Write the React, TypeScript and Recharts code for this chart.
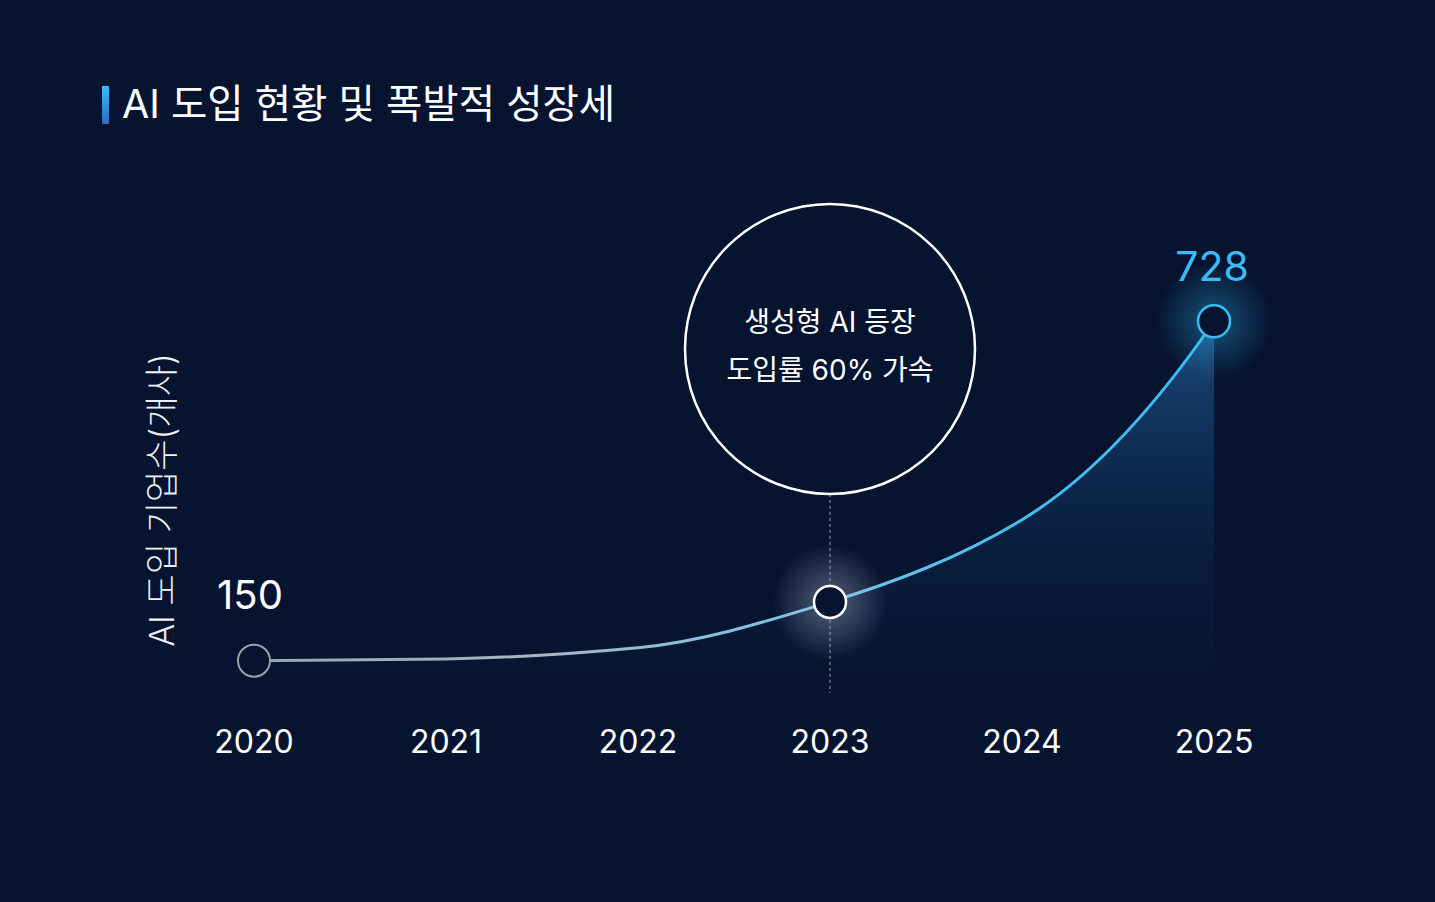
import React from "react"
import { Area, ComposedChart, Line, XAxis, YAxis } from "recharts"

const years = ["2020", "2021", "2022", "2023", "2024", "2025"]
const companies = [150, 153, 172, 250, 390, 728]
const title = "AI 도입 현황 및 폭발적 성장세"
const yLabel = "AI 도입 기업수(개사)"
const noteLines = ["생성형 AI 등장", "도입률 60% 가속"]
const noteYear = "2023"

const data = years.map((year, i) => ({ year, value: companies[i] }))

const BG = "#06142f"
const FONT = "Inter, 'Noto Sans CJK KR', sans-serif"

// cubic hermite curve, harmonic-mean tangents so the growth bends smoothly upward
const smoothCurve = (context: any) => {
  let xs: number[] = []
  let ys: number[] = []
  let line = NaN
  return {
    areaStart() {
      line = 0
    },
    areaEnd() {
      line = NaN
    },
    lineStart() {
      xs = []
      ys = []
    },
    point(x: number, y: number) {
      xs.push(+x)
      ys.push(+y)
    },
    lineEnd() {
      const n = xs.length
      if (n) {
        if (line) context.lineTo(xs[0], ys[0])
        else context.moveTo(xs[0], ys[0])
      }
      if (n === 2) context.lineTo(xs[1], ys[1])
      if (n > 2) {
        const s: number[] = []
        for (let i = 0; i < n - 1; i++) {
          const h = xs[i + 1] - xs[i]
          s.push(h === 0 ? 0 : (ys[i + 1] - ys[i]) / h)
        }
        const t: number[] = new Array(n).fill(0)
        for (let i = 1; i < n - 1; i++) {
          const a = s[i - 1]
          const b = s[i]
          t[i] = a * b > 0 ? (2 * a * b) / (a + b) : 0
        }
        const end = (sl: number, nb: number) => {
          const v = 2 * sl - nb
          if (v * sl <= 0) return 0
          return Math.abs(v) > Math.abs(3 * sl) ? 3 * sl : v
        }
        t[0] = end(s[0], t[1])
        t[n - 1] = end(s[n - 2], t[n - 2])
        for (let i = 0; i < n - 1; i++) {
          const h = (xs[i + 1] - xs[i]) / 3
          context.bezierCurveTo(
            xs[i] + h,
            ys[i] + t[i] * h,
            xs[i + 1] - h,
            ys[i + 1] - t[i + 1] * h,
            xs[i + 1],
            ys[i + 1]
          )
        }
      }
      if (line || (line !== 0 && n === 1)) context.closePath()
      line = 1 - line
    },
  }
}

const YearTick = (props: any) => {
  const { x, y, payload } = props
  return (
    <text
      x={x}
      y={y + 51}
      textAnchor="middle"
      dominantBaseline="central"
      fill="#ffffff"
      fontSize={32}
      fontFamily={FONT}
    >
      {payload.value}
    </text>
  )
}

const Dot = (props: any) => {
  const { cx, cy, index, payload } = props
  const last = data.length - 1
  if (index === 0) {
    return (
      <g key={`dot-${index}`}>
        <circle cx={cx} cy={cy} r={16} fill={BG} stroke="#9aa1ab" strokeWidth={2} />
        <text
          x={cx - 4}
          y={cy - 66}
          textAnchor="middle"
          dominantBaseline="central"
          fill="#ffffff"
          fontSize={40}
          fontFamily={FONT}
        >
          {payload.value}
        </text>
      </g>
    )
  }
  if (payload.year === noteYear) {
    return (
      <g key={`dot-${index}`}>
        <line
          x1={cx}
          x2={cx}
          y1={cy - 108}
          y2={cy + 91}
          stroke="#ffffff"
          strokeOpacity={0.6}
          strokeWidth={1}
          strokeDasharray="3 3"
        />
        <circle cx={cx} cy={cy} r={58} fill="url(#glowWhite)" />
        <circle cx={cx} cy={cy} r={16} fill={BG} stroke="#ffffff" strokeWidth={2.5} />
        <circle cx={cx} cy={cy - 253} r={145} fill={BG} stroke="#ffffff" strokeWidth={2.5} />
        {noteLines.map((t, i) => (
          <text
            key={t}
            x={cx}
            y={cy - 280 + i * 48}
            textAnchor="middle"
            dominantBaseline="central"
            fill="#ffffff"
            fontSize={28}
            fontFamily={FONT}
          >
            {t}
          </text>
        ))}
      </g>
    )
  }
  if (index === last) {
    return (
      <g key={`dot-${index}`}>
        <circle cx={cx} cy={cy} r={58} fill="url(#glowBlue)" />
        <circle cx={cx} cy={cy} r={16} fill={BG} stroke="#38bdf8" strokeWidth={2.5} />
        <text
          x={cx - 2}
          y={cy - 55}
          textAnchor="middle"
          dominantBaseline="central"
          fill="#38bdf8"
          fontSize={41}
          fontFamily={FONT}
        >
          {payload.value}
        </text>
      </g>
    )
  }
  return <g key={`dot-${index}`} />
}

export default function App() {
  return (
    <div
      style={{
        position: "absolute",
        left: 0,
        top: 0,
        width: 1435,
        height: 902,
        background: BG,
        fontFamily: FONT,
        overflow: "hidden",
      }}
    >
      <div
        style={{
          position: "absolute",
          left: 102,
          top: 86,
          width: 7,
          height: 38,
          background: "linear-gradient(#38bdf8, #2b6cc4)",
        }}
      />
      <div
        style={{
          position: "absolute",
          left: 122,
          top: 84,
          height: 40,
          lineHeight: "40px",
          fontSize: 39.5,
          fontWeight: 400,
          color: "#ffffff",
          whiteSpace: "nowrap",
        }}
      >
        {title}
      </div>
      <div
        style={{
          position: "absolute",
          left: 162,
          top: 500,
          transform: "translate(-50%, -50%) rotate(-90deg)",
          fontSize: 34,
          fontWeight: 300,
          color: "#eef0f4",
          whiteSpace: "nowrap",
          lineHeight: 1,
        }}
      >
        {yLabel}
      </div>
      <div style={{ position: "absolute", left: 0, top: 0 }}>
        <ComposedChart
          width={1435}
          height={902}
          data={data}
          margin={{ top: 279, right: 221, bottom: 152, left: 254 }}
        >
          <defs>
            <linearGradient id="lineStroke" x1="0" y1="0" x2="1" y2="0">
              <stop offset="0%" stopColor="#9ba2ac" />
              <stop offset="30%" stopColor="#a8b6c4" />
              <stop offset="55%" stopColor="#7cc4e4" />
              <stop offset="80%" stopColor="#44bff0" />
              <stop offset="100%" stopColor="#38bdf8" />
            </linearGradient>
            <linearGradient id="areaFill" x1="0" y1="0" x2="0" y2="1">
              <stop offset="0%" stopColor="#3080cc" stopOpacity={0.85} />
              <stop offset="20%" stopColor="#2a7ac0" stopOpacity={0.6} />
              <stop offset="40%" stopColor="#246cae" stopOpacity={0.42} />
              <stop offset="65%" stopColor="#1e5896" stopOpacity={0.2} />
              <stop offset="100%" stopColor="#1e5896" stopOpacity={0} />
            </linearGradient>
            <radialGradient id="glowWhite">
              <stop offset="25%" stopColor="#b8c4dc" stopOpacity={0.32} />
              <stop offset="100%" stopColor="#b8c4dc" stopOpacity={0} />
            </radialGradient>
            <radialGradient id="glowBlue">
              <stop offset="25%" stopColor="#38bdf8" stopOpacity={0.28} />
              <stop offset="100%" stopColor="#38bdf8" stopOpacity={0} />
            </radialGradient>
          </defs>
          <XAxis
            dataKey="year"
            scale="point"
            padding={{ left: 0, right: 0 }}
            height={60}
            axisLine={false}
            tickLine={false}
            tickSize={0}
            tickMargin={0}
            tick={<YearTick />}
            interval={0}
          />
          <YAxis hide domain={[100, 800]} />
          <Area
            type={smoothCurve as any}
            dataKey="value"
            stroke="none"
            fill="url(#areaFill)"
            isAnimationActive={false}
            activeDot={false}
          />
          <Line
            type={smoothCurve as any}
            dataKey="value"
            stroke="url(#lineStroke)"
            strokeWidth={3}
            dot={Dot}
            activeDot={false}
            isAnimationActive={false}
          />
        </ComposedChart>
      </div>
    </div>
  )
}
